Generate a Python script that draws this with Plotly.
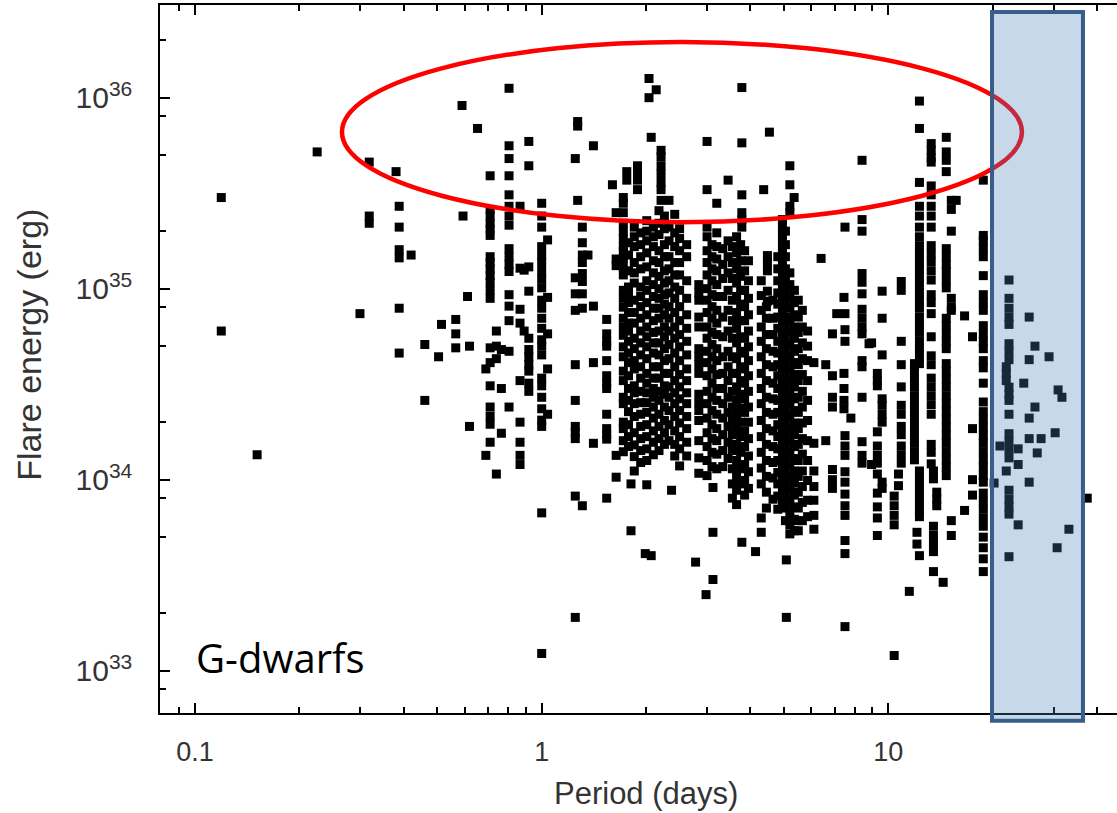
import numpy as np
import plotly.graph_objects as go

# Rotation period of each star (days)
star_period = [
    0.119, 0.151, 0.225, 0.299, 0.318, 0.380, 0.388, 0.420, 0.460, 0.504,
    0.514, 0.565, 0.589, 0.593, 0.611, 0.619, 0.653, 0.69, 0.71, 0.74,
    0.765, 0.805, 0.866, 0.89, 0.918, 1.0, 1.04, 1.25, 1.27, 1.31,
    1.36, 1.41, 1.54, 1.60, 1.64, 1.72, 1.76, 1.81, 1.85, 1.89,
    2.01, 2.04, 1.99, 2.07, 2.14, 2.18, 2.21, 2.33, 2.37, 2.5,
    2.78, 2.84, 2.98, 3.0, 3.12, 3.2, 3.45, 3.65, 3.78, 3.85,
    4.14, 4.3, 4.37, 4.48, 4.54, 4.65, 4.95, 5.08, 5.2, 5.35,
    5.5, 5.85, 6.1, 6.4, 6.6, 6.9, 7.1, 7.45, 7.5, 7.8,
    8.4, 8.8, 8.95, 9.3, 9.6, 10.4, 10.7, 10.9, 11.5, 11.9,
    12.1, 12.3, 13.3, 13.5, 13.8, 14.7, 14.4, 15.2, 15.7, 16.6,
    17.5, 18.8, 22.3, 21.0, 21.9, 20.2, 23.7, 24.6, 25.5, 26.5,
    26.9, 27.6, 29.1, 30.3, 30.7, 30.9, 31.7, 33.2, 37.5,
    1.78, 1.93, 2.10, 2.26, 2.42, 2.62,
    3.10, 3.33, 3.55, 3.75, 3.95,
    4.45, 4.80, 5.05, 5.36, 5.65,
]

# Flare energies (erg) observed on each star, same order as star_period
star_flares = [
    [3.0e35, 6.0e34],
    [1.35e34],
    [5.2e35],
    [7.4e34],
    [4.6e35, 2.4e35, 2.2e35],
    [4.1e35],
    [2.7e35, 2.1e35, 1.6e35, 1.45e35, 7.9e34, 4.6e34],
    [1.5e35],
    [5.1e34, 2.6e34],
    [4.4e34],
    [6.5e34],
    [6.9e34, 5.8e34, 4.9e34],
    [9.1e35],
    [2.4e35],
    [9.1e34],
    [5.0e34, 1.9e34],
    [6.9e35],
    [3.8e34, 1.34e34],
    [3.9e35, 2.6e35, 2.4e35, 2.2e35, 2.05e35, 1.9e35, 1.47e35, 1.37e35, 1.27e35, 1.17e35,
     1.08e35, 9.8e34, 8.9e34, 4.9e34, 4.1e34, 3.1e34, 2.4e34, 2.15e34, 1.95e34, 1.57e34],
    [6.0e34, 5.0e34, 4.3e34, 1.07e34],
    [4.8e34, 3.0e34, 1.75e34],
    [1.12e36, 5.6e35, 4.8e35, 3.9e35, 3.1e35, 2.7e35, 2.4e35, 2.15e35, 1.62e35, 1.47e35,
     1.34e35, 1.23e35, 9.3e34, 8.1e34, 6.8e34, 4.7e34, 2.4e34],
    [2.7e35, 1.28e35, 7.8e34, 6.6e34, 3.3e34, 2.0e34, 1.57e34, 1.34e34, 1.2e34],
    [1.25e35, 6.0e34],
    [5.9e35, 4.4e35, 1.3e35, 9.7e34, 5.5e34, 4.8e34, 4.4e34, 4.0e34, 3.7e34, 3.2e34, 2.9e34],
    [2.8e35, 2.4e35, 2.1e35, 1.66e35, 1.5e35, 1.37e35, 1.23e35, 1.12e35, 1.01e35, 8.7e34,
     7.9e34, 7.0e34, 6.2e34, 5.4e34, 5.0e34, 4.5e34, 3.4e34, 3.1e34, 2.7e34, 2.35e34,
     2.05e34, 1.9e34, 6.7e33, 1.23e33],
    [1.8e35, 9.0e34, 5.8e34, 3.8e34, 2.2e34],
    [4.8e35, 1.14e35, 9.4e34, 7.7e34, 4.0e34, 2.6e34, 1.9e34, 1.77e34, 1.64e34, 8.2e33, 1.9e33],
    [7.5e35, 7.1e35, 2.9e35],
    [2.1e35, 1.74e35, 1.5e35, 1.37e35, 1.2e35, 1.09e35, 9.4e34, 7.9e34, 7.3e33],
    [1.5e35],
    [5.6e35, 8.1e34, 4.1e34, 1.55e34],
    [6.9e34, 5.8e34, 5.3e34, 5.0e34, 4.2e34, 3.5e34, 3.2e34, 3.0e34, 2.2e34, 1.85e34,
     1.72e34, 1.63e34, 8.0e33],
    [3.5e35],
    [2.5e35, 1.43e35, 1.32e35, 1.34e34, 1.03e34],
    [3.0e35, 2.8e35, 2.5e35, 2.2e35, 2.0e35, 1.83e35, 1.66e35, 1.58e35, 1.44e35, 1.3e35,
     1.18e35, 9.8e34, 8.9e34, 8.0e34, 7.0e34, 6.3e34, 5.7e34, 4.96e34, 4.4e34, 3.7e34,
     3.3e34, 2.7e34, 2.5e34, 2.0e34, 1.85e34, 1.6e34, 1.4e34],
    [4.1e35, 3.7e35],
    [9.5e33, 5.4e33],
    [2.1e35, 1.87e35, 1.66e35, 1.37e35, 1.21e35, 1.07e35, 8.7e34, 7.5e34, 6.6e34, 5.5e34,
     4.85e34, 4.2e34, 3.8e34, 3.1e34, 2.85e34, 2.5e34, 2.14e34, 1.76e34, 1.52e34, 1.32e34,
     1.11e34],
    [4.4e35, 4.1e35, 3.7e35, 3.3e35],
    [2.27e35, 2.0e35, 1.78e35, 1.54e35, 1.3e35, 1.1e35, 9.8e34, 8.45e34, 7.3e34, 6.3e34,
     5.6e34, 4.96e34, 4.3e34, 3.6e34, 3.2e34, 2.85e34, 2.53e34, 2.25e34, 1.94e34, 1.68e34,
     1.45e34, 1.26e34, 9.4e33],
    [1.26e36, 1.0e36],
    [4.1e33],
    [6.2e35, 4.0e33],
    [1.1e36],
    [2.56e35, 2.2e35, 1.92e35, 1.58e35, 1.37e35, 1.16e35, 1.0e35, 8.9e34, 7.9e34, 7.0e34,
     6.0e34, 5.2e34, 4.5e34, 3.9e34, 3.4e34, 2.9e34, 2.6e34, 2.2e34, 1.9e34, 1.64e34, 1.42e34],
    [5.3e35, 4.9e35, 4.4e35, 4.0e35, 3.6e35, 3.3e35, 2.9e35],
    [2.9e35, 2.1e35, 1.78e35, 1.47e35, 1.27e35, 1.1e35, 9.5e34, 8.05e34, 7.0e34, 6.0e34,
     5.1e34, 4.3e34, 3.6e34, 3.06e34, 2.7e34, 2.3e34, 1.94e34, 1.6e34],
    [8.8e33],
    [2.06e35, 1.83e35, 1.58e35, 1.37e35, 1.18e35, 9.8e34, 8.05e34, 6.8e34, 5.75e34, 4.96e34,
     4.2e34, 3.55e34, 3.06e34, 2.65e34, 2.3e34, 1.98e34, 1.68e34, 1.45e34, 1.18e34],
    [3.7e33],
    [1.05e35, 9.5e34, 8.7e34, 7.1e34, 6.3e34, 4.85e34, 4.4e34, 4.0e34, 3.6e34, 2.8e34,
     2.53e34, 2.3e34, 2.04e34, 1.6e34, 1.3e34, 1.08e34],
    [2.5e33],
    [5.9e35, 3.3e35, 2.1e35, 1.87e35, 1.58e35, 1.37e35, 1.18e35, 1.0e35, 8.7e34, 7.5e34,
     6.3e34, 5.5e34, 4.7e34, 4.1e34, 3.5e34, 2.9e34, 2.5e34, 2.1e34, 1.76e34, 1.49e34,
     1.26e34, 1.05e34],
    [9.1e33, 5.3e33, 3.0e33],
    [2.8e35, 1.96e35, 1.66e35, 1.43e35, 1.24e35, 1.05e35, 9.1e34, 7.7e34, 6.6e34, 5.75e34,
     4.85e34, 4.2e34, 3.55e34, 3.0e34, 2.6e34, 2.2e34, 1.85e34, 1.6e34, 1.36e34, 1.14e34],
    [3.7e35, 1.78e35, 1.47e35, 1.21e35, 9.8e34, 7.7e34, 6.0e34, 4.7e34, 3.9e34, 3.3e34,
     2.7e34, 2.25e34, 1.9e34, 1.57e34, 1.29e34],
    [1.87e35, 1.54e35, 1.27e35, 1.07e35, 9.1e34, 7.5e34, 6.2e34, 5.2e34, 4.3e34, 3.6e34,
     3.06e34, 2.6e34, 2.2e34, 1.85e34, 1.53e34, 1.26e34, 1.04e34, 8.8e33, 7.4e33],
    [1.13e36, 5.8e35, 3.1e35, 2.5e35, 2.3e35, 2.1e35, 4.7e33],
    [1.58e35, 1.24e35, 9.8e34, 8.05e34, 6.8e34, 5.5e34, 4.6e34, 3.8e34, 3.2e34, 2.65e34,
     2.25e34, 1.8e34, 1.49e34, 1.2e34, 9.9e33, 8.3e33],
    [4.2e33],
    [1.1e35, 9.2e34, 7.7e34, 6.3e34, 5.3e34, 4.4e34, 3.6e34, 3.0e34, 2.5e34, 2.04e34,
     1.68e34, 1.39e34, 1.15e34, 9.5e33, 6.3e33, 5.3e33],
    [3.3e35],
    [1.49e35, 1.37e35, 1.24e35, 9.7e34, 8.6e34],
    [6.6e35],
    [8.7e34, 7.0e34, 5.75e34, 4.7e34, 3.9e34, 3.2e34, 2.65e34, 2.2e34, 1.8e34, 1.49e34,
     1.23e34, 1.02e34, 7.9e33],
    [2.3e35, 2.1e35, 1.92e35, 1.74e35, 1.58e35, 1.37e35, 1.18e35, 1.02e35, 8.9e34, 7.7e34,
     6.6e34, 5.75e34, 4.96e34, 4.3e34, 3.7e34, 3.2e34, 2.8e34, 2.4e34, 2.08e34, 1.8e34,
     1.56e34, 1.35e34, 1.17e34, 1.01e34, 8.8e33, 7.6e33],
    [3.8e33, 1.9e33],
    [4.4e35, 3.5e35, 2.7e35, 2.5e35, 1.21e35, 1.05e35, 9.1e34, 7.9e34, 6.8e34, 5.9e34,
     5.1e34, 4.4e34, 3.8e34, 3.3e34, 2.85e34, 2.5e34, 2.14e34, 1.85e34, 1.6e34, 1.39e34,
     1.2e34, 1.04e34, 9.0e33, 7.8e33, 6.7e33, 5.8e33, 5.2e33],
    [3.0e35],
    [8.7e34, 7.1e34, 5.9e34, 4.85e34, 4.0e34, 3.3e34, 2.7e34, 2.25e34, 1.85e34, 1.53e34,
     1.26e34, 1.04e34, 8.6e33, 7.1e33, 6.1e33, 5.4e33],
    [6.0e34, 5.0e34, 4.2e34, 3.3e34, 2.6e34, 2.04e34, 1.6e34, 1.26e34, 9.9e33, 7.8e33, 6.4e33],
    [4.1e34, 1.55e34, 1.11e34, 9.2e33, 7.8e33, 6.5e33, 5.5e33],
    [1.44e35],
    [4.0e34, 1.6e34],
    [5.8e34, 3.5e34, 2.7e34, 2.4e34, 1.13e34, 1.0e34, 9.0e33],
    [7.4e34],
    [9.0e34, 3.6e34, 3.0e34, 2.6e34, 2.35e34],
    [2.1e35, 7.4e34, 6.1e34, 5.3e34, 1.7e34, 1.5e34, 1.34e34, 1.1e34, 9.7e33, 8.4e33,
     7.3e33, 6.5e33, 4.8e33, 4.1e33, 1.7e33],
    [2.1e34],
    [4.7e35, 2.3e35, 2.0e35, 1.2e35, 1.08e35, 9.4e34, 7.8e34, 7.0e34, 6.3e34, 5.8e34,
     4.2e34, 3.9e34, 2.7e34, 1.58e34, 1.34e34, 1.22e34],
    [5.15e34],
    [5.2e34, 1.2e34],
    [3.6e34, 3.3e34, 3.1e34, 1.78e34, 1.5e34, 1.34e34, 1.22e34, 1.07e34, 8.5e33, 7.2e33,
     6.3e33, 5.1e33],
    [9.7e34, 7.0e34, 4.5e34, 2.65e34, 2.45e34, 2.2e34, 2.0e34, 9.7e33, 9.0e33],
    [8.2e33, 7.3e33, 6.5e33, 5.8e33, 1.2e33],
    [1.07e34, 9.3e33],
    [1.09e35, 9.8e34, 5.3e34, 4.0e34, 3.06e34, 2.45e34, 2.2e34, 1.9e34, 1.72e34, 1.5e34,
     1.35e34, 1.22e34],
    [2.6e33],
    [4.05e34, 3.7e34, 3.35e34, 3.05e34, 2.75e34, 2.5e34, 2.27e34, 2.06e34, 1.87e34, 1.7e34,
     1.55e34, 1.4e34, 1.27e34],
    [5.3e33, 4.6e33],
    [9.6e35, 6.9e35, 3.6e35, 2.7e35, 2.4e35, 2.1e35, 1.87e35, 1.68e35, 1.54e35, 1.4e35,
     1.27e35, 1.16e35, 1.05e35, 9.5e34, 8.7e34, 7.9e34, 7.1e34, 6.5e34, 5.9e34, 5.3e34,
     4.85e34, 4.4e34, 4.05e34, 1.11e34, 1.01e34, 9.2e33, 8.4e33, 7.6e33, 6.9e33, 6.4e33, 4.0e33],
    [5.75e35, 5.3e35, 4.85e35, 4.6e35, 3.45e35, 3.1e35, 2.7e35, 2.4e35, 2.1e35, 1.68e35,
     1.52e35, 1.38e35, 1.24e35, 1.11e35, 9.3e34, 8.45e34, 7.4e34, 5.6e34, 4.45e34, 4.0e34,
     3.4e34, 3.06e34, 2.75e34, 2.47e34, 2.2e34, 1.53e34, 1.39e34, 1.21e34],
    [1.11e34, 1.01e34, 5.7e33, 5.1e33, 4.6e33, 4.2e33, 3.3e33],
    [8.6e33, 7.9e33, 7.3e33],
    [6.2e35, 5.2e35, 4.7e35, 4.1e35, 1.62e35, 1.47e35, 1.34e35, 1.23e35, 1.11e35, 1.01e35,
     7.0e34, 6.4e34, 5.8e34, 5.3e34, 4.85e34, 4.05e34, 3.7e34, 3.35e34, 3.05e34, 2.75e34,
     2.5e34, 2.27e34, 2.06e34, 1.87e34, 1.7e34, 1.55e34, 1.4e34, 1.27e34, 1.16e34, 1.05e34],
    [2.9e33],
    [2.9e35, 2.6e35, 2.0e35, 8.9e34, 8.0e34, 7.7e34, 6.1e33, 5.1e33],
    [2.9e35],
    [7.2e34, 6.9e33],
    [5.6e34, 1.85e34, 1.0e34, 8.3e33],
    [3.7e35, 1.9e35, 1.78e35, 1.62e35, 1.47e35, 1.17e35, 9.3e34, 8.45e34, 7.7e34, 6.4e34,
     5.8e34, 5.3e34, 4.85e34, 4.2e34, 3.85e34, 3.2e34, 2.55e34, 2.27e34, 2.06e34, 1.87e34,
     1.7e34, 1.55e34, 1.4e34, 1.27e34, 1.16e34, 1.05e34, 9.7e33, 8.5e33, 7.7e33, 7.0e33,
     6.3e33, 5.7e33, 5.0e33, 4.4e33, 3.85e33, 3.3e33],
    [1.11e35, 8.9e34, 7.9e34, 7.1e34, 6.5e34, 5.15e34, 4.7e34, 4.25e34, 3.05e34, 2.8e34,
     2.6e34, 2.2e34, 1.74e34, 1.58e34, 1.44e34, 1.3e34, 8.8e33, 7.9e33, 7.2e33, 6.6e33, 3.95e33],
    [1.5e34],
    [3.9e34, 3.6e34, 3.3e34, 1.11e34],
    [9.6e33],
    [1.45e34, 1.2e34, 5.8e33],
    [3.2e34],
    [7.1e34, 4.25e34, 2.1e34, 1.64e34, 9.7e33],
    [5.0e34, 2.4e34],
    [1.38e34],
    [1.64e34],
    [4.4e34],
    [1.76e34],
    [4.4e33],
    [2.95e34],
    [2.7e34],
    [5.5e33],
    [8.0e33],
    # stars filling the crowded 1.7-6 day range
    [1.74e35, 1.5e35, 1.24e35, 1.02e35, 9.3e34, 8.45e34, 7.5e34, 6.6e34, 6.0e34, 5.3e34,
     4.6e34, 4.1e34, 3.5e34, 3.0e34, 2.6e34, 2.27e34, 1.94e34, 1.68e34, 1.49e34],
    [1.96e35, 1.7e35, 1.47e35, 1.27e35, 1.02e35, 9.1e34, 8.05e34, 7.0e34, 6.0e34, 5.2e34,
     4.5e34, 3.9e34, 3.4e34, 2.9e34, 2.53e34, 2.2e34, 1.9e34, 1.64e34, 1.42e34, 1.23e34],
    [2.1e35, 1.87e35, 1.66e35, 1.4e35, 1.21e35, 1.05e35, 9.1e34, 7.9e34, 6.8e34, 5.9e34,
     5.2e34, 4.6e34, 3.9e34, 3.4e34, 3.0e34, 2.7e34, 2.4e34, 2.1e34, 1.8e34, 1.57e34, 1.35e34],
    [2.4e35, 2.06e35, 1.7e35, 1.47e35, 1.24e35, 1.07e35, 9.3e34, 8.3e34, 7.3e34, 6.3e34,
     5.6e34, 4.85e34, 4.2e34, 3.6e34, 3.1e34, 2.8e34, 2.4e34, 2.04e34, 1.76e34, 1.53e34],
    [2.45e35, 1.96e35, 1.66e35, 1.37e35, 1.18e35, 1.02e35, 8.9e34, 7.5e34, 6.3e34, 5.5e34,
     4.6e34, 3.9e34, 3.3e34, 2.85e34, 2.5e34, 2.14e34, 1.8e34, 1.53e34, 1.33e34],
    [1.7e35, 1.47e35, 1.1e35, 8.9e34, 7.3e34, 6.2e34, 5.3e34, 4.5e34, 3.8e34, 3.3e34,
     2.85e34, 2.5e34, 2.14e34, 1.85e34, 1.57e34, 1.33e34],
    [1.7e35, 1.47e35, 1.27e35, 1.1e35, 9.3e34, 8.05e34, 7.0e34, 5.9e34, 5.1e34, 4.4e34,
     3.8e34, 3.2e34, 2.7e34, 2.3e34, 1.94e34, 1.64e34, 1.39e34, 1.17e34],
    [1.62e35, 1.34e35, 1.13e35, 9.1e34, 7.1e34, 5.6e34, 4.4e34, 3.6e34, 3.0e34, 2.5e34,
     2.1e34, 1.72e34, 1.42e34, 1.17e34],
    [1.66e35, 1.37e35, 1.13e35, 8.7e34, 6.8e34, 5.5e34, 4.4e34, 3.6e34, 2.9e34, 2.4e34,
     2.04e34, 1.72e34, 1.42e34, 1.14e34, 9.5e33, 8.0e33],
    [1.7e35, 1.4e35, 1.16e35, 9.8e34, 8.3e34, 6.8e34, 5.6e34, 4.7e34, 3.9e34, 3.3e34,
     2.8e34, 2.37e34, 2.0e34, 1.68e34, 1.39e34, 1.14e34, 9.5e33],
    [1.4e35, 1.1e35, 8.9e34, 7.3e34, 6.0e34, 4.96e34, 4.2e34, 3.5e34, 2.9e34, 2.4e34,
     2.0e34, 1.64e34, 1.33e34, 1.1e34, 9.0e33],
    [8.05e34, 7.0e34, 5.75e34, 4.85e34, 4.0e34, 3.3e34, 2.7e34, 2.25e34, 1.85e34, 1.53e34,
     1.26e34, 1.04e34, 8.6e33, 7.1e33],
    [1.47e35, 1.27e35, 1.1e35, 9.5e34, 8.3e34, 7.1e34, 6.2e34, 5.3e34, 4.6e34, 4.0e34,
     3.5e34, 3.0e34, 2.6e34, 2.25e34, 1.94e34, 1.68e34, 1.45e34, 1.26e34, 1.09e34, 9.5e33,
     8.2e33, 7.0e33],
    [2.0e35, 1.7e35, 1.47e35, 1.27e35, 1.1e35, 9.5e34, 8.3e34, 7.1e34, 6.2e34, 5.3e34,
     4.6e34, 4.0e34, 3.5e34, 3.0e34, 2.6e34, 2.25e34, 1.94e34, 1.68e34, 1.45e34, 1.26e34,
     1.09e34, 9.5e33, 8.2e33, 7.1e33, 6.1e33],
    [9.8e34, 8.45e34, 7.3e34, 6.3e34, 5.5e34, 4.7e34, 4.1e34, 3.55e34, 3.06e34, 2.65e34,
     2.3e34, 1.98e34, 1.72e34, 1.49e34, 1.29e34, 1.11e34, 9.6e33, 8.3e33, 7.2e33, 6.2e33, 5.4e33],
    [7.7e34, 6.3e34, 5.2e34, 4.3e34, 3.55e34, 2.9e34, 2.4e34, 1.98e34, 1.64e34, 1.36e34,
     1.11e34, 9.2e33, 7.6e33, 6.1e33],
]

# Axis extents
period_range = (0.0792, 45.7)       # days
energy_range = (6.0e32, 3.057e36)   # erg

# Tick labels
x_tick_vals = [0.1, 1, 10]
x_tick_text = ["0.1", "1", "10"]
x_minor_vals = [0.09, 0.2, 0.3, 0.4, 0.5, 0.6, 0.7, 0.8, 0.9,
                2, 3, 4, 5, 6, 7, 8, 9, 20, 30, 40]
y_tick_vals = [1e33, 1e34, 1e35, 1e36]
y_tick_text = ["10<sup>33</sup>", "10<sup>34</sup>", "10<sup>35</sup>", "10<sup>36</sup>"]
y_minor_vals = [8e32, 2e33, 5e33, 8e33, 2e34, 5e34, 8e34,
                2e35, 5e35, 8e35, 2e36]

# Highlighted regions (data units)
ellipse_period = (0.2653, 24.3)
ellipse_energy = (2.23e35, 1.957e36)
band_period = (19.92, 36.45)
band_energy = (5.46e32, 2.81e36)

# Flatten star table into individual flares
periods, energies = [], []
for p, flares in zip(star_period, star_flares):
    periods.extend([p] * len(flares))
    energies.extend(flares)

xl0, xl1 = np.log10(period_range)
yl0, yl1 = np.log10(energy_range)


def px(period):
    return (np.log10(period) - xl0) / (xl1 - xl0)


def py(energy):
    return (np.log10(energy) - yl0) / (yl1 - yl0)


fig = go.Figure()
fig.add_trace(go.Scatter(
    x=periods, y=energies, mode="markers",
    marker=dict(symbol="square", size=9, color="black", line=dict(width=0)),
    hoverinfo="x+y", showlegend=False,
))

x_font = dict(family="Liberation Sans, Arial, sans-serif", size=27, color="#333333")
y_font = dict(family="Liberation Sans, Arial, sans-serif", size=30, color="#333333")

fig.update_xaxes(
    type="log", range=[xl0, xl1],
    tickmode="array", tickvals=x_tick_vals, ticktext=x_tick_text,
    ticks="inside", ticklen=10, tickwidth=1.5, tickcolor="black",
    minor=dict(tickmode="array", tickvals=x_minor_vals, ticks="inside",
               ticklen=6, tickwidth=1.5, tickcolor="black", showgrid=False),
    showline=True, linecolor="black", linewidth=1.5, mirror="ticks",
    showgrid=False, zeroline=False, tickfont=x_font, ticklabelstandoff=14,
)
fig.update_yaxes(
    type="log", range=[yl0, yl1],
    tickmode="array", tickvals=y_tick_vals, ticktext=y_tick_text,
    ticks="inside", ticklen=10, tickwidth=1.5, tickcolor="black",
    minor=dict(tickmode="array", tickvals=y_minor_vals, ticks="inside",
               ticklen=6, tickwidth=1.5, tickcolor="black", showgrid=False),
    showline=True, linecolor="black", linewidth=1.5, mirror=False,
    showgrid=False, zeroline=False, tickfont=y_font, ticklabelstandoff=20,
)

fig.add_shape(
    type="circle", xref="paper", yref="paper", layer="above",
    x0=px(ellipse_period[0]), x1=px(ellipse_period[1]),
    y0=py(ellipse_energy[0]), y1=py(ellipse_energy[1]),
    line=dict(color="#ff0000", width=4.5), fillcolor="rgba(0,0,0,0)",
)
fig.add_shape(
    type="rect", xref="paper", yref="paper", layer="above",
    x0=px(band_period[0]), x1=px(band_period[1]),
    y0=py(band_energy[0]), y1=py(band_energy[1]),
    line=dict(color="#385D8A", width=4), fillcolor="rgba(79,129,189,0.31)",
)

fig.add_annotation(
    text="Period (days)", xref="paper", yref="paper", x=0.508, y=-0.114,
    xanchor="center", yanchor="middle", showarrow=False,
    font=dict(family="Liberation Sans, Arial, sans-serif", size=31, color="#333333"),
)
fig.add_annotation(
    text="Flare energy (erg)", xref="paper", yref="paper", x=-0.137, y=0.52,
    xanchor="center", yanchor="middle", textangle=-90, showarrow=False,
    font=dict(family="Liberation Sans, Arial, sans-serif", size=34, color="#333333"),
)
fig.add_annotation(
    text="G-dwarfs", xref="paper", yref="paper", x=0.036, y=0.079,
    xanchor="left", yanchor="middle", showarrow=False,
    font=dict(family="Open Sans, sans-serif", size=40, color="black"),
)

fig.update_layout(
    width=1117, height=813,
    margin=dict(l=160, r=0, t=5, b=100),
    paper_bgcolor="white", plot_bgcolor="white",
)

fig.write_html("out.html")
